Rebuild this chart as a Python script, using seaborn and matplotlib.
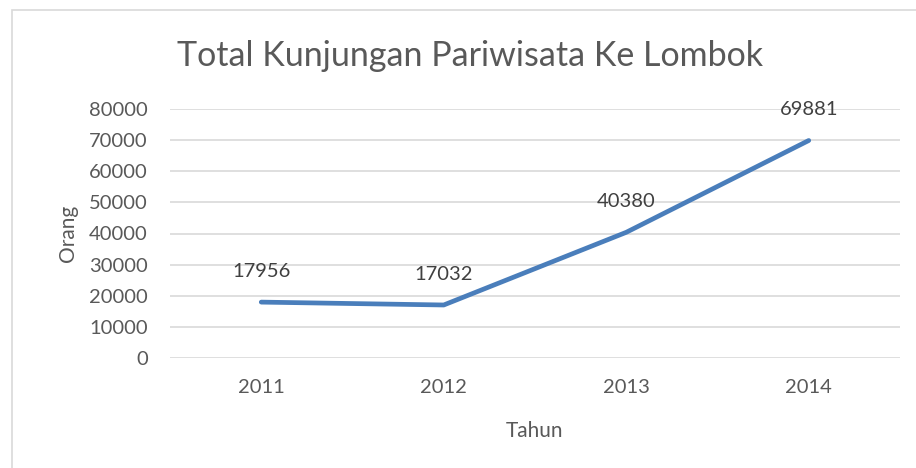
import pandas as pd
import matplotlib.pyplot as plt
import seaborn as sns
from matplotlib.patches import Rectangle

# data
tahun = ["2011", "2012", "2013", "2014"]
kunjungan = [17956, 17032, 40380, 69881]
yticks = [0, 10000, 20000, 30000, 40000, 50000, 60000, 70000, 80000]

df = pd.DataFrame({"Tahun": tahun, "Orang": kunjungan})

sns.set_style("white")
plt.rcParams['font.family'] = ['Lato', 'DejaVu Sans']
txt = "#595959"

fig = plt.figure(figsize=(9.16, 4.68), dpi=100)
ax = fig.add_axes([170/916, 1-358/468, 730/916, 249/468])

# chart border
fig.patches.append(Rectangle((12/916, -0.05), 1.0, 1-10/468+0.05, transform=fig.transFigure,
                             fill=False, edgecolor="#D9D9D9", linewidth=1.2))

sns.lineplot(data=df, x="Tahun", y="Orang", ax=ax, color="#4A7EBB", linewidth=3.4,
             solid_capstyle="round", sort=False)

for i, v in enumerate(kunjungan):
    ax.annotate(str(v), (i, v), xytext=(0, 22), textcoords="offset points",
                ha="center", va="center", fontsize=14.5, color="#404040")

ax.set_xlim(-0.5, 3.5)
ax.set_ylim(0, 80000)
ax.set_yticks(yticks)
ax.set_yticklabels([str(t) for t in yticks])
ax.yaxis.grid(True, color="#D9D9D9", linewidth=1.2)
ax.xaxis.grid(False)
ax.set_axisbelow(True)
for s in ax.spines.values():
    s.set_visible(False)
ax.tick_params(axis="both", length=0, labelsize=14.5, labelcolor=txt)
ax.tick_params(axis="y", pad=16)
ax.tick_params(axis="x", pad=15)

ax.set_xlabel("Tahun", fontsize=15, color=txt, labelpad=18)
ax.set_ylabel("Orang", fontsize=15, color=txt, labelpad=8)
fig.text(470/916, 1-56/468, "Total Kunjungan Pariwisata Ke Lombok", ha="center", va="center",
         fontsize=24.5, color=txt)

fig.savefig("out.png", dpi=100)
